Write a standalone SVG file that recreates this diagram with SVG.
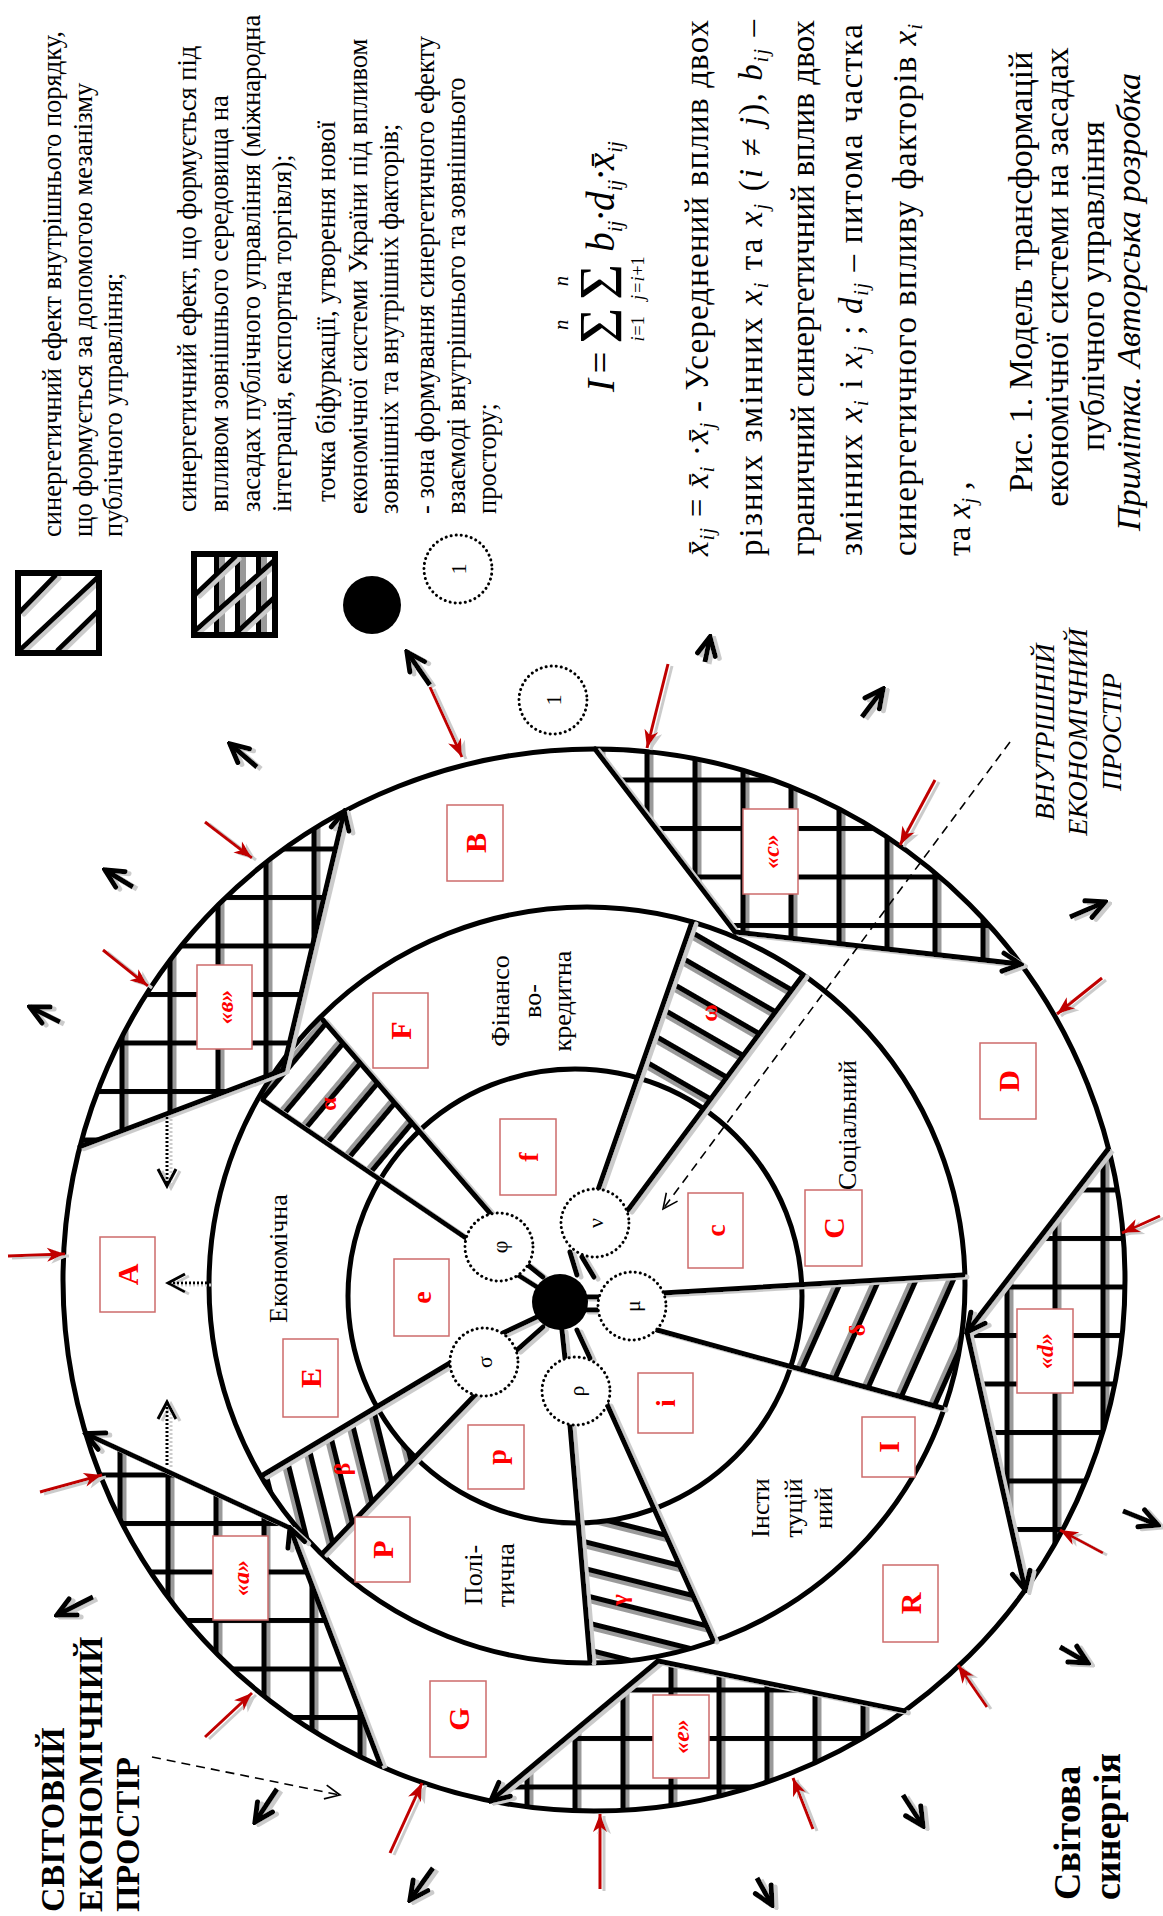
<svg xmlns="http://www.w3.org/2000/svg" width="1163" height="1916" viewBox="0 0 1163 1916">
<style>
text { font-family: 'Liberation Serif', 'Times New Roman', serif; fill: #000; }
.lg { font-size: 26.5px; }
.ex { font-size: 33px; }
.cap { font-size: 34px; }
.sec { font-size: 26px; }
.lbl { font-weight: bold; fill: #f00; font-size: 30px; text-anchor: middle; }
.lbs { font-weight: bold; fill: #f00; font-size: 28px; text-anchor: middle; }
.q { font-weight: bold; font-style: italic; fill: #f00; font-size: 24px; text-anchor: middle; }
.gr { font-weight: bold; fill: #f00; font-size: 24px; text-anchor: middle; }
.gl { font-size: 22px; text-anchor: middle; }
.box { fill: #fff; stroke: #cd6b6b; stroke-width: 1.5; }
.ring { fill: none; stroke: #000; stroke-width: 5; }
.ln { stroke: #000; stroke-width: 5; fill: none; stroke-linecap: round; }
.lnA { stroke: #000; stroke-width: 5; fill: none; marker-end: url(#ah); }
.dc { fill: #fff; stroke: #000; stroke-width: 3; stroke-dasharray: 0.1 5; stroke-linecap: round; }
.red { stroke: #c00000; stroke-width: 3; fill: none; marker-end: url(#ra); }
.chev { stroke: #000; stroke-width: 5; fill: none; marker-end: url(#ah); }
.dash { stroke: #000; stroke-width: 1.6; fill: none; stroke-dasharray: 9 6; marker-end: url(#oa); }
.dot { stroke: #000; stroke-width: 3; fill: none; stroke-dasharray: 2 2; marker-end: url(#ob); }
.bold { font-weight: bold; }
.it { font-style: italic; }
</style>
<defs>
<filter id="sh" filterUnits="userSpaceOnUse" x="0" y="0" width="1163" height="1916">
<feOffset in="SourceAlpha" dx="4" dy="2" result="o"/>
<feColorMatrix in="o" type="matrix" values="0 0 0 0 0.6  0 0 0 0 0.6  0 0 0 0 0.6  0 0 0 1 0" result="g"/>
<feMerge><feMergeNode in="g"/><feMergeNode in="SourceGraphic"/></feMerge>
</filter>
<marker id="ah" viewBox="0 0 26 26" refX="23" refY="13" markerWidth="26" markerHeight="26" markerUnits="userSpaceOnUse" orient="auto"><path d="M5,4 L23,13 L5,22" fill="none" stroke="#000" stroke-width="5" stroke-linecap="round" stroke-linejoin="miter"/></marker>
<marker id="ra" viewBox="0 0 20 20" refX="19" refY="10" markerWidth="20" markerHeight="20" markerUnits="userSpaceOnUse" orient="auto"><path d="M1,3 L19,10 L1,17 L6,10 Z" fill="#c00000"/></marker>
<marker id="oa" viewBox="0 0 20 20" refX="18" refY="10" markerWidth="20" markerHeight="20" markerUnits="userSpaceOnUse" orient="auto"><path d="M3,3 L18,10 L3,17" fill="none" stroke="#000" stroke-width="1.6"/></marker>
<marker id="ob" viewBox="0 0 24 24" refX="21" refY="12" markerWidth="24" markerHeight="24" markerUnits="userSpaceOnUse" orient="auto"><path d="M4,3 L21,12 L4,21" fill="none" stroke="#000" stroke-width="3"/></marker>
<pattern id="gB" patternUnits="userSpaceOnUse" x="119.5" y="846.5" width="48" height="48.5"><rect x="5" width="4" height="48.5" fill="#9a9a9a"/><rect width="5" height="48.5" fill="#000"/><rect width="48" height="5" fill="#000"/></pattern>
<pattern id="gA" patternUnits="userSpaceOnUse" x="117.5" y="1472.5" width="48" height="48.5"><rect x="5" width="4" height="48.5" fill="#9a9a9a"/><rect width="5" height="48.5" fill="#000"/><rect width="48" height="5" fill="#000"/></pattern>
<pattern id="gC" patternUnits="userSpaceOnUse" x="644.5" y="777.5" width="48" height="48.5"><rect x="5" width="4" height="48.5" fill="#9a9a9a"/><rect width="5" height="48.5" fill="#000"/><rect width="48" height="5" fill="#000"/></pattern>
<pattern id="gD" patternUnits="userSpaceOnUse" x="1004.5" y="1187.5" width="48" height="48.5"><rect x="5" width="4" height="48.5" fill="#9a9a9a"/><rect width="5" height="48.5" fill="#000"/><rect width="48" height="5" fill="#000"/></pattern>
<pattern id="gE" patternUnits="userSpaceOnUse" x="572.5" y="1687.5" width="48" height="48.5"><rect x="5" width="4" height="48.5" fill="#9a9a9a"/><rect width="5" height="48.5" fill="#000"/><rect width="48" height="5" fill="#000"/></pattern>
<pattern id="hAl" patternUnits="userSpaceOnUse" width="60" height="26" patternTransform="rotate(130)"><rect y="5" width="60" height="4" fill="#9a9a9a"/><rect width="60" height="5" fill="#000"/></pattern>
<pattern id="hBe" patternUnits="userSpaceOnUse" width="60" height="24" patternTransform="rotate(76)"><rect y="5" width="60" height="4" fill="#9a9a9a"/><rect width="60" height="5" fill="#000"/></pattern>
<pattern id="hGa" patternUnits="userSpaceOnUse" width="60" height="26" patternTransform="rotate(14)"><rect y="5" width="60" height="4" fill="#9a9a9a"/><rect width="60" height="5" fill="#000"/></pattern>
<pattern id="hDe" patternUnits="userSpaceOnUse" width="60" height="34" patternTransform="rotate(114)"><rect y="5" width="60" height="4" fill="#9a9a9a"/><rect width="60" height="5" fill="#000"/></pattern>
<pattern id="hOm" patternUnits="userSpaceOnUse" width="60" height="27" patternTransform="rotate(30)"><rect y="5" width="60" height="4" fill="#9a9a9a"/><rect width="60" height="5" fill="#000"/></pattern>
<clipPath id="ann"><path clip-rule="evenodd" d="M209,1285a378,378 0 1,0 756,0a378,378 0 1,0 -756,0Z M348,1296a227,227 0 1,0 454,0a227,227 0 1,0 -454,0Z"/></clipPath>
<clipPath id="cs1"><rect x="18" y="573" width="81" height="80"/></clipPath>
<clipPath id="cs2"><rect x="194" y="554" width="81" height="81"/></clipPath>
</defs>

<rect width="1163" height="1916" fill="#fff"/>

<!-- legend -->
<g id="legend">
  <g id="legend-internal">
    <g clip-path="url(#cs1)" filter="url(#sh)">
      <line class="ln" x1="20" y1="612" x2="55" y2="576"/>
      <line class="ln" x1="20" y1="650" x2="97" y2="578"/>
      <line class="ln" x1="58" y1="650" x2="97" y2="612"/>
    </g>
    <rect x="18" y="573" width="81" height="80" fill="none" stroke="#000" stroke-width="6"/>
    <text class="lg" transform="translate(61,537) rotate(-90)">синергетичний ефект внутрішнього порядку,</text>
    <text class="lg" transform="translate(92,537) rotate(-90)">що формується за допомогою мезанізму</text>
    <text class="lg" transform="translate(122,537) rotate(-90)">публічного управління;</text>
  </g>
  <g id="legend-external">
    <g clip-path="url(#cs2)">
      <rect x="219" y="554" width="6" height="81" fill="#9a9a9a"/>
      <rect x="240" y="554" width="6" height="81" fill="#9a9a9a"/>
      <rect x="261" y="554" width="6" height="81" fill="#9a9a9a"/>
      <rect x="214" y="554" width="5" height="81" fill="#000"/>
      <rect x="235" y="554" width="5" height="81" fill="#000"/>
      <rect x="256" y="554" width="5" height="81" fill="#000"/>
      <g filter="url(#sh)">
        <line class="ln" x1="196" y1="630" x2="277" y2="558"/>
        <line class="ln" x1="196" y1="594" x2="235" y2="557"/>
        <line class="ln" x1="233" y1="636" x2="277" y2="595"/>
      </g>
    </g>
    <rect x="194" y="554" width="81" height="81" fill="none" stroke="#000" stroke-width="6"/>
    <text class="lg" transform="translate(196,512) rotate(-90)">синергетичний ефект, що формується під</text>
    <text class="lg" transform="translate(228,512) rotate(-90)">впливом зовнішнього середовища на</text>
    <text class="lg" transform="translate(260,512) rotate(-90)">засадах публічного управління (міжнародна</text>
    <text class="lg" transform="translate(291,512) rotate(-90)">інтеграція, експортна торгівля);</text>
  </g>
  <g id="legend-bifurcation">
    <circle cx="372" cy="605" r="29" fill="#000"/>
    <text class="lg" transform="translate(335,502) rotate(-90)">точка біфуркації, утворення нової</text>
    <text class="lg" transform="translate(367,514) rotate(-90)">економічної системи України під впливом</text>
    <text class="lg" transform="translate(398,514) rotate(-90)">зовнішніх та внутрішніх факторів;</text>
  </g>
  <g id="legend-zone">
    <circle class="dc" cx="458" cy="569" r="34"/>
    <text class="gl" transform="translate(458,569) rotate(-90)" dy="0.35em">1</text>
    <text class="lg" transform="translate(434,514) rotate(-90)">- зона формування синергетичного ефекту</text>
    <text class="lg" transform="translate(465,514) rotate(-90)">взаємоді внутрішнього та зовнішнього</text>
    <text class="lg" transform="translate(496,514) rotate(-90)">простору;</text>
  </g>
</g>

<!-- formula and notes -->
<g id="formula" transform="translate(614,392) rotate(-90) scale(1.15)">
  <text x="0" y="0" class="it" font-size="34">I</text>
  <text x="16" y="0" font-size="34">=</text>
  <text x="42" y="6" font-size="54">Σ</text>
  <text x="80" y="6" font-size="54">Σ</text>
  <text x="54" y="-40" class="it" font-size="18">n</text>
  <text x="92" y="-40" class="it" font-size="18">n</text>
  <text x="44" y="26" class="it" font-size="16">i</text><text x="49" y="26" font-size="16">=1</text>
  <text x="80" y="26" class="it" font-size="16">j</text><text x="86" y="26" font-size="16">=</text><text x="96" y="26" class="it" font-size="16">i</text><text x="101" y="26" font-size="16">+1</text>
  <text x="122" y="0" class="it" font-size="34">b<tspan font-size="18" dy="7">ij</tspan><tspan dy="-7">·</tspan>d<tspan font-size="18" dy="7">ij</tspan><tspan dy="-7">·</tspan>x̄<tspan font-size="18" dy="7">ij</tspan></text>
</g>
<g id="notes">
  <text class="ex" textLength="536" lengthAdjust="spacing" transform="translate(708,556) rotate(-90)"><tspan class="it">x̄</tspan><tspan class="it" font-size="20" dy="6">ij</tspan><tspan dy="-6"> = </tspan><tspan class="it">x̄</tspan><tspan class="it" font-size="20" dy="6">i</tspan><tspan dy="-6"> ·</tspan><tspan class="it">x̄</tspan><tspan class="it" font-size="20" dy="6">j</tspan><tspan dy="-6"> - Усереднений вплив двох</tspan></text>
  <text class="ex" textLength="536" lengthAdjust="spacing" transform="translate(762,556) rotate(-90)">різних змінних <tspan class="it">x</tspan><tspan class="it" font-size="20" dy="6">i</tspan><tspan dy="-6">  та  </tspan><tspan class="it">x</tspan><tspan class="it" font-size="20" dy="6">j</tspan><tspan dy="-6">  (</tspan><tspan class="it">i</tspan> ≠ <tspan class="it">j</tspan>), <tspan class="it">b</tspan><tspan class="it" font-size="20" dy="6">ij</tspan><tspan dy="-6"> –</tspan></text>
  <text class="ex" textLength="536" lengthAdjust="spacing" transform="translate(814,556) rotate(-90)">граничний синергетичний вплив двох</text>
  <text class="ex" textLength="532" lengthAdjust="spacing" transform="translate(862,556) rotate(-90)">змінних <tspan class="it">x</tspan><tspan class="it" font-size="20" dy="6">i</tspan><tspan dy="-6"> і </tspan><tspan class="it">x</tspan><tspan class="it" font-size="20" dy="6">j</tspan><tspan dy="-6"> ; </tspan><tspan class="it">d</tspan><tspan class="it" font-size="20" dy="6">ij</tspan><tspan dy="-6"> – питома частка</tspan></text>
  <text class="ex" textLength="532" lengthAdjust="spacing" transform="translate(916,556) rotate(-90)">синергетичного впливу факторів  <tspan class="it">x</tspan><tspan class="it" font-size="20" dy="6">i</tspan></text>
  <text class="ex" transform="translate(970,556) rotate(-90)">та <tspan class="it">x</tspan><tspan class="it" font-size="20" dy="6">j</tspan><tspan dy="-6"> ,</tspan></text>
</g>
<g id="caption">
  <text class="cap" text-anchor="middle" transform="translate(1032,272) rotate(-90)">Рис. 1. Модель трансформацій</text>
  <text class="cap" text-anchor="middle" transform="translate(1068,277) rotate(-90)">економічної системи на засадах</text>
  <text class="cap" text-anchor="middle" transform="translate(1104,286) rotate(-90)">публічного управління</text>
  <text class="cap it" text-anchor="middle" transform="translate(1140,302) rotate(-90)">Примітка. Авторська розробка</text>
</g>

<!-- crosshatched zones -->
<g id="zones">
  <path id="zone-v" d="M283,1070 L80,1146.7 A531,531 0 0,1 344.3,811.4 Z" fill="url(#gB)"/>
  <path id="zone-c" d="M735,932 L595,749 A531,531 0 0,1 1020.9,964.2 Z" fill="url(#gC)"/>
  <path id="zone-d" d="M967,1332 L1108.5,1148.6 A531,531 0 0,1 1025.2,1589.9 Z" fill="url(#gD)"/>
  <path id="zone-e" d="M658,1661 L904.4,1710.9 A531,531 0 0,1 490.8,1800.9 Z" fill="url(#gE)"/>
  <path id="zone-a" d="M290,1528 L85.7,1433.7 A531,531 0 0,0 381.1,1766.4 Z" fill="url(#gA)"/>
</g>
<g id="bands" clip-path="url(#ann)">
  <polygon id="band-alpha" points="490,1213 290,981 233,1079 466,1238" fill="url(#hAl)"/>
  <polygon id="band-beta" points="450,1363 235,1492 300,1577 475,1395" fill="url(#hBe)"/>
  <polygon id="band-gamma" points="570,1425 593,1696 729,1675 607,1404" fill="url(#hGa)"/>
  <polygon id="band-delta" points="663,1293 1008,1272 985,1420 657,1330" fill="url(#hDe)"/>
  <polygon id="band-omega" points="598,1190 706,883 829,939 628,1210" fill="url(#hOm)"/>
</g>

<g id="rings">
  <circle class="ring" cx="594" cy="1280" r="531"/>
  <circle class="ring" cx="587" cy="1285" r="378"/>
  <circle class="ring" cx="575" cy="1296" r="227"/>
</g>

<g id="connectors" filter="url(#sh)">
  <line class="ln" x1="490" y1="1213" x2="323" y2="1020"/>
  <line class="ln" x1="466" y1="1238" x2="263" y2="1100"/>
  <line class="ln" x1="598" y1="1190" x2="692" y2="922"/>
  <line class="ln" x1="628" y1="1210" x2="803" y2="975"/>
  <line class="ln" x1="663" y1="1293" x2="963" y2="1275"/>
  <line class="ln" x1="657" y1="1330" x2="942" y2="1408"/>
  <line class="ln" x1="450" y1="1363" x2="263" y2="1475"/>
  <line class="ln" x1="475" y1="1395" x2="323" y2="1553"/>
  <line class="ln" x1="570" y1="1425" x2="590" y2="1661"/>
  <line class="ln" x1="607" y1="1404" x2="713" y2="1640"/>
  <line class="ln" x1="528" y1="1265" x2="543" y2="1277"/>
  <line class="ln" x1="518" y1="1275" x2="537" y2="1287"/>
  <line class="ln" x1="570" y1="1252" x2="577" y2="1275"/>
  <line class="ln" x1="582" y1="1257" x2="594" y2="1277"/>
  <line class="ln" x1="585" y1="1297" x2="600" y2="1297"/>
  <line class="ln" x1="585" y1="1310" x2="600" y2="1310"/>
  <line class="ln" x1="503" y1="1333" x2="537" y2="1317"/>
  <line class="ln" x1="517" y1="1350" x2="543" y2="1327"/>
  <line class="ln" x1="562" y1="1330" x2="565" y2="1358"/>
  <line class="ln" x1="577" y1="1330" x2="590" y2="1358"/>
  <line class="ln" x1="80" y1="1146.7" x2="283" y2="1070"/>
  <line class="lnA" x1="283" y1="1070" x2="344.3" y2="811.4"/>
  <line class="ln" x1="595" y1="749" x2="735" y2="932"/>
  <line class="lnA" x1="735" y1="932" x2="1020.9" y2="964.2"/>
  <line class="lnA" x1="1108.5" y1="1148.6" x2="967" y2="1332"/>
  <line class="lnA" x1="967" y1="1332" x2="1025.2" y2="1589.9"/>
  <line class="ln" x1="904.4" y1="1710.9" x2="658" y2="1661"/>
  <line class="lnA" x1="658" y1="1661" x2="490.8" y2="1800.9"/>
  <line class="lnA" x1="290" y1="1528" x2="85.7" y2="1433.7"/>
  <line class="lnA" x1="381.1" y1="1766.4" x2="290" y2="1528"/>
  <line class="dot" x1="167" y1="1117" x2="167" y2="1186"/>
  <line class="dot" x1="167" y1="1465" x2="167" y2="1402"/>
  <line class="dot" x1="207" y1="1283" x2="168" y2="1283"/>
</g>
<g id="flows" filter="url(#sh)">
  <line class="red" x1="205" y1="822" x2="252" y2="858"/>
  <line class="red" x1="103" y1="950" x2="148" y2="986"/>
  <line class="red" x1="8" y1="1256" x2="65" y2="1254"/>
  <line class="red" x1="430" y1="687" x2="462" y2="757"/>
  <line class="red" x1="668" y1="664" x2="647" y2="748"/>
  <line class="red" x1="935" y1="780" x2="900" y2="845"/>
  <line class="red" x1="1102" y1="978" x2="1057" y2="1014"/>
  <line class="red" x1="1160" y1="1216" x2="1122" y2="1233"/>
  <line class="red" x1="1103" y1="1553" x2="1060" y2="1530"/>
  <line class="red" x1="987" y1="1707" x2="958" y2="1665"/>
  <line class="red" x1="813" y1="1829" x2="793" y2="1778"/>
  <line class="red" x1="600" y1="1889" x2="600" y2="1814"/>
  <line class="red" x1="390" y1="1853" x2="422" y2="1783"/>
  <line class="red" x1="205" y1="1737" x2="252" y2="1693"/>
  <line class="red" x1="40" y1="1492" x2="102" y2="1475"/>
  <line class="chev" x1="257" y1="767" x2="230" y2="744"/>
  <line class="chev" x1="133" y1="887" x2="105" y2="870"/>
  <line class="chev" x1="60" y1="1022" x2="30" y2="1007"/>
  <line class="chev" x1="430" y1="685" x2="407" y2="652"/>
  <line class="chev" x1="705" y1="662" x2="710" y2="637"/>
  <line class="chev" x1="862" y1="717" x2="883" y2="689"/>
  <line class="chev" x1="1070" y1="917" x2="1105" y2="902"/>
  <line class="chev" x1="1123" y1="1511" x2="1158" y2="1525"/>
  <line class="chev" x1="1060" y1="1647" x2="1088" y2="1663"/>
  <line class="chev" x1="903" y1="1795" x2="923" y2="1826"/>
  <line class="chev" x1="757" y1="1878" x2="772" y2="1905"/>
  <line class="chev" x1="433" y1="1868" x2="410" y2="1900"/>
  <line class="chev" x1="277" y1="1789" x2="255" y2="1822"/>
  <line class="chev" x1="93" y1="1597" x2="57" y2="1615"/>
</g>
<g id="pointers">
  <line class="dash" x1="1010" y1="742" x2="663" y2="1209"/>
  <line class="dash" x1="152" y1="1757" x2="340" y2="1795"/>
</g>

<!-- hub and zone circles -->
<g id="hub"><circle cx="560" cy="1302" r="28" fill="#000"/></g>
<g id="node-phi"><circle class="dc" cx="499" cy="1247" r="34"/><text class="gl" transform="translate(499,1247) rotate(-90)" dy="0.35em">φ</text></g>
<g id="node-nu"><circle class="dc" cx="595" cy="1223" r="34"/><text class="gl" transform="translate(595,1223) rotate(-90)" dy="0.35em">ν</text></g>
<g id="node-mu"><circle class="dc" cx="632" cy="1306" r="34"/><text class="gl" transform="translate(632,1306) rotate(-90)" dy="0.35em">μ</text></g>
<g id="node-sigma"><circle class="dc" cx="484" cy="1362" r="34"/><text class="gl" transform="translate(484,1362) rotate(-90)" dy="0.35em">σ</text></g>
<g id="node-rho"><circle class="dc" cx="576" cy="1391" r="34"/><text class="gl" transform="translate(576,1391) rotate(-90)" dy="0.35em">ρ</text></g>
<g id="node-zone1"><circle class="dc" cx="553" cy="700" r="34"/><text class="gl" transform="translate(553,700) rotate(-90)" dy="0.35em">1</text></g>

<!-- labelled boxes -->
<g id="node-e"><rect class="box" x="394" y="1259" width="55" height="77"/><text class="lbs" transform="translate(421.5,1297.5) rotate(-90)" dy="0.35em">e</text></g>
<g id="node-f"><rect class="box" x="500" y="1119" width="56" height="76"/><text class="lbs" transform="translate(528,1157) rotate(-90)" dy="0.35em">f</text></g>
<g id="node-c"><rect class="box" x="688" y="1193" width="55" height="75"/><text class="lbs" transform="translate(715.5,1230.5) rotate(-90)" dy="0.35em">c</text></g>
<g id="node-i"><rect class="box" x="638" y="1373" width="55" height="60"/><text class="lbs" transform="translate(665.5,1403) rotate(-90)" dy="0.35em">i</text></g>
<g id="node-p"><rect class="box" x="468" y="1425" width="56" height="64"/><text class="lbs" transform="translate(496,1457) rotate(-90)" dy="0.35em">p</text></g>
<g id="node-F"><rect class="box" x="373" y="993" width="55" height="75"/><text class="lbl" transform="translate(400.5,1030.5) rotate(-90)" dy="0.35em">F</text></g>
<g id="node-E"><rect class="box" x="283" y="1339" width="55" height="78"/><text class="lbl" transform="translate(310.5,1378) rotate(-90)" dy="0.35em">E</text></g>
<g id="node-P"><rect class="box" x="355" y="1517" width="55" height="65"/><text class="lbl" transform="translate(382.5,1549.5) rotate(-90)" dy="0.35em">P</text></g>
<g id="node-C"><rect class="box" x="805" y="1190" width="57" height="76"/><text class="lbl" transform="translate(833.5,1228) rotate(-90)" dy="0.35em">C</text></g>
<g id="node-I"><rect class="box" x="862" y="1417" width="53" height="60"/><text class="lbl" transform="translate(888.5,1447) rotate(-90)" dy="0.35em">I</text></g>
<g id="node-A"><rect class="box" x="100" y="1237" width="55" height="75"/><text class="lbl" transform="translate(127.5,1274.5) rotate(-90)" dy="0.35em">A</text></g>
<g id="node-B"><rect class="box" x="447" y="805" width="56" height="76"/><text class="lbl" transform="translate(475,843) rotate(-90)" dy="0.35em">B</text></g>
<g id="node-D"><rect class="box" x="980" y="1043" width="56" height="76"/><text class="lbl" transform="translate(1008,1081) rotate(-90)" dy="0.35em">D</text></g>
<g id="node-R"><rect class="box" x="883" y="1565" width="55" height="77"/><text class="lbl" transform="translate(910.5,1603.5) rotate(-90)" dy="0.35em">R</text></g>
<g id="node-G"><rect class="box" x="430" y="1681" width="56" height="76"/><text class="lbl" transform="translate(458,1719) rotate(-90)" dy="0.35em">G</text></g>
<g id="node-qv"><rect class="box" x="197" y="965" width="55" height="84"/><text class="q" transform="translate(224.5,1007) rotate(-90)" dy="0.35em">«в»</text></g>
<g id="node-qc"><rect class="box" x="743" y="809" width="55" height="85"/><text class="q" transform="translate(770.5,851.5) rotate(-90)" dy="0.35em">«c»</text></g>
<g id="node-qd"><rect class="box" x="1017" y="1309" width="56" height="84"/><text class="q" transform="translate(1045,1351) rotate(-90)" dy="0.35em">«d»</text></g>
<g id="node-qe"><rect class="box" x="653" y="1695" width="56" height="83"/><text class="q" transform="translate(681,1736.5) rotate(-90)" dy="0.35em">«e»</text></g>
<g id="node-qa"><rect class="box" x="213" y="1536" width="55" height="84"/><text class="q" transform="translate(240.5,1578) rotate(-90)" dy="0.35em">«a»</text></g>

<!-- band letters -->
<g id="band-labels">
  <text class="gr" transform="translate(328,1104) rotate(-90)" dy="0.35em">α</text>
  <text class="gr" transform="translate(342,1469) rotate(-90)" dy="0.35em">β</text>
  <text class="gr" transform="translate(619,1600) rotate(-90)" dy="0.35em">γ</text>
  <text class="gr" transform="translate(857,1330) rotate(-90)" dy="0.35em">δ</text>
  <text class="gr" transform="translate(709,1013) rotate(-90)" dy="0.35em">ω</text>
</g>

<!-- sector names -->
<g id="sectors">
  <text class="sec" transform="translate(287,1323) rotate(-90)">Економічна</text>
  <text class="sec" text-anchor="middle" transform="translate(509,1001) rotate(-90)">Фінансо</text>
  <text class="sec" text-anchor="middle" transform="translate(541,1001) rotate(-90)">во-</text>
  <text class="sec" text-anchor="middle" transform="translate(571,1001) rotate(-90)">кредитна</text>
  <text class="sec" transform="translate(856,1190) rotate(-90)">Соціальний</text>
  <text class="sec" text-anchor="middle" transform="translate(482,1575) rotate(-90)">Полі-</text>
  <text class="sec" text-anchor="middle" transform="translate(514,1575) rotate(-90)">тична</text>
  <text class="sec" text-anchor="middle" transform="translate(769,1508) rotate(-90)">Інсти</text>
  <text class="sec" text-anchor="middle" transform="translate(802,1508) rotate(-90)">туцій</text>
  <text class="sec" text-anchor="middle" transform="translate(832,1508) rotate(-90)">ний</text>
</g>

<!-- space titles -->
<g id="world-space">
  <text class="bold" font-size="34" transform="translate(64,1912) rotate(-90)">СВІТОВИЙ</text>
  <text class="bold" font-size="34" transform="translate(102,1912) rotate(-90)">ЕКОНОМІЧНИЙ</text>
  <text class="bold" font-size="34" transform="translate(139,1912) rotate(-90)">ПРОСТІР</text>
</g>
<g id="world-synergy">
  <text class="bold" font-size="38" transform="translate(1080,1900) rotate(-90)">Світова</text>
  <text class="bold" font-size="38" transform="translate(1120,1900) rotate(-90)">синергія</text>
</g>
<g id="internal-space">
  <text class="it" font-size="28" text-anchor="middle" transform="translate(1054,732) rotate(-90)">ВНУТРІШНІЙ</text>
  <text class="it" font-size="28" text-anchor="middle" transform="translate(1087,732) rotate(-90)">ЕКОНОМІЧНИЙ</text>
  <text class="it" font-size="28" text-anchor="middle" transform="translate(1121,732) rotate(-90)">ПРОСТІР</text>
</g>
</svg>
